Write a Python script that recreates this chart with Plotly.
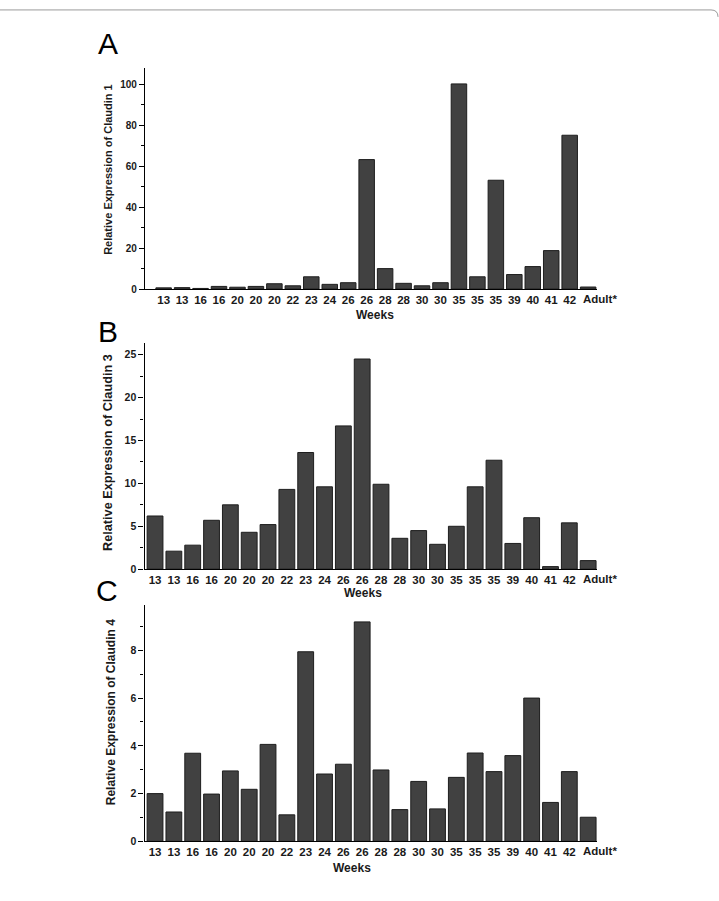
import plotly.graph_objects as go

W, H = 719, 901

weeks = ["13", "13", "16", "16", "20", "20", "20", "22", "23", "24", "26", "26",
         "28", "28", "30", "30", "35", "35", "35", "39", "40", "41", "42", "Adult*"]

claudin1 = [0.6, 0.7, 0.3, 1.3, 0.9, 1.3, 2.6, 1.6, 6.0, 2.3, 3.1, 63.3,
            10.0, 2.8, 1.6, 3.1, 100.3, 6.0, 53.2, 7.1, 11.0, 18.8, 75.2, 1.0]

claudin3 = [6.2, 2.1, 2.8, 5.7, 7.5, 4.3, 5.2, 9.3, 13.6, 9.6, 16.7, 24.5,
            9.9, 3.6, 4.5, 2.9, 5.0, 9.6, 12.7, 3.0, 6.0, 0.3, 5.4, 1.0]

claudin4 = [2.0, 1.23, 3.69, 1.98, 2.95, 2.18, 4.06, 1.11, 7.94, 2.82, 3.23, 9.19,
            2.99, 1.33, 2.51, 1.36, 2.68, 3.70, 2.92, 3.59, 6.0, 1.63, 2.92, 1.01]

panel_letters = ["A", "B", "C"]
y_titles = ["Relative Expression of Claudin 1",
            "Relative Expression of Claudin 3",
            "Relative Expression of Claudin 4"]
x_title = "Weeks"

FONT = "Liberation Sans, Arial, sans-serif"
BAR_FILL = "#414141"
BAR_EDGE = "#1e1e1e"


def px(x):
    return x / W


def py(y):
    return 1 - y / H


panels = [
    dict(data=claudin1, xdom=(145, 597), ydom=(68, 291), yrange=(0, 108.3),
         xrange=(-1.01, 23.48), dtick=20, minor=10, tfx=11.5, tfy=10,
         letter=(107.5, 44), ytitle=(108, 171, 11), xtitle=(375, 317)),
    dict(data=claudin3, xdom=(144.5, 597), ydom=(345, 573), yrange=(0, 26.4),
         xrange=(-0.56, 23.47), dtick=5, minor=2.5, tfx=11.5, tfy=10.5,
         letter=(107.5, 334), ytitle=(108, 456, 12.7), xtitle=(363, 597)),
    dict(data=claudin4, xdom=(144.5, 597), ydom=(609, 847), yrange=(0, 9.9),
         xrange=(-0.56, 23.47), dtick=2, minor=1, tfx=11.5, tfy=10.5,
         letter=(107, 594), ytitle=(111, 717, 12), xtitle=(352, 874)),
]

fig = go.Figure()
layout = dict(
    width=W, height=H,
    margin=dict(l=0, r=0, t=0, b=0),
    paper_bgcolor="white", plot_bgcolor="white",
    showlegend=False, bargap=0.16,
    annotations=[], shapes=[],
)

xs = list(range(len(weeks)))
last = len(weeks) - 1
for i, p in enumerate(panels):
    n = "" if i == 0 else str(i + 1)
    fig.add_trace(go.Bar(
        x=xs, y=p["data"], xaxis="x" + n, yaxis="y" + n,
        marker=dict(color=BAR_FILL, line=dict(color=BAR_EDGE, width=1)),
        hoverinfo="y",
    ))
    tfont = dict(family=FONT, size=p["tfx"], color="#1a1a1a", weight="bold")
    layout["xaxis" + n] = dict(
        domain=[px(p["xdom"][0]), px(p["xdom"][1])],
        anchor="y" + n, range=list(p["xrange"]),
        tickmode="array", tickvals=xs[:-1], ticktext=weeks[:-1],
        ticks="", showline=True, linecolor="black", linewidth=1.3,
        showgrid=False, zeroline=False, tickangle=0,
        tickfont=tfont,
    )
    # the last category label sits a little right of its bar in the original
    layout["annotations"].append(dict(
        text=weeks[last], x=xs[last], y=0, xref="x" + n, yref="y" + n,
        xanchor="center", yanchor="top", xshift=12, yshift=-2, showarrow=False,
        font=tfont,
    ))
    layout["yaxis" + n] = dict(
        domain=[py(p["ydom"][1]), py(p["ydom"][0])],
        anchor="x" + n, range=list(p["yrange"]),
        tick0=0, dtick=p["dtick"], ticks="outside", ticklen=5, tickwidth=1.2,
        tickcolor="black",
        minor=dict(ticks="outside", ticklen=3, tickwidth=1.2, tickcolor="black",
                   dtick=p["minor"], tick0=0, showgrid=False),
        showline=True, linecolor="black", linewidth=1.3,
        showgrid=False, zeroline=False,
        tickfont=dict(family=FONT, size=p["tfy"], color="#1a1a1a", weight="bold"),
    )
    lx, ly = p["letter"]
    layout["annotations"].append(dict(
        text=panel_letters[i], x=px(lx), y=py(ly), xref="paper", yref="paper",
        xanchor="center", yanchor="middle", showarrow=False,
        font=dict(family=FONT, size=30, color="black"),
    ))
    tx, ty, ts = p["ytitle"]
    layout["annotations"].append(dict(
        text=y_titles[i], x=px(tx), y=py(ty), xref="paper", yref="paper",
        xanchor="center", yanchor="middle", showarrow=False, textangle=-90,
        font=dict(family=FONT, size=ts, color="#1a1a1a", weight="bold"),
    ))
    wx, wy = p["xtitle"]
    layout["annotations"].append(dict(
        text=x_title, x=px(wx), y=py(wy), xref="paper", yref="paper",
        xanchor="center", yanchor="middle", showarrow=False,
        font=dict(family=FONT, size=12, color="#1a1a1a", weight="bold"),
    ))

# page frame line at the top with a rounded right corner
layout["shapes"].append(dict(
    type="path", xref="paper", yref="paper",
    path=f"M 0,{py(10)} L {px(711)},{py(10)} Q {px(718)},{py(10)} {px(718)},{py(17)}",
    line=dict(color="#9a9a9a", width=1),
))

fig.update_layout(**layout)
fig.write_html("out.html")
